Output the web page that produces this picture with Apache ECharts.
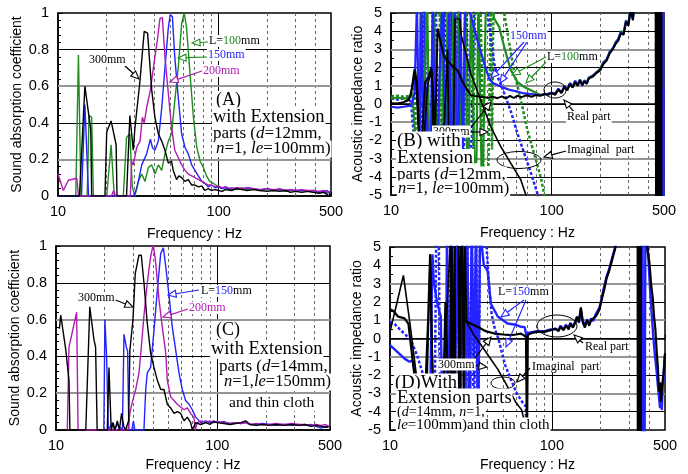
<!DOCTYPE html>
<html><head><meta charset="utf-8">
<script src="https://cdn.jsdelivr.net/npm/echarts@6/dist/echarts.min.js"></script>
<style>html,body{margin:0;padding:0;background:#fff}#c{width:688px;height:474px}</style>
</head><body><div id="c"></div>
<script>
// ---------- tick / grid values ----------
const xTickLabels = [10, 100, 500];
const gridFreqs = [20, 30, 40, 50, 60, 70, 80, 90, 200, 300, 400];
const absGrid = [0.2, 0.4, 0.6, 0.8];
const impGrid = [-4, -3, -2, -1, 0, 1, 2, 3, 4];

// ---------- Panel A : absorption, d=12mm ----------
const aGreen = [[10,0],[12.9,0],[13.4,0.77],[13.9,0],[15.2,0],[15.6,0.44],[16.2,0.43],[16.6,0],[20.1,0],[21.4,0.28],[22.4,0],[25.5,0],[26.7,0.32],[28.0,0.34],[29,0.05],[30.1,0],[31.6,0.08],[33.2,0.12],[34.8,0.08],[36.5,0.155],[38.3,0.17],[40.1,0.12],[42.1,0.17],[44.2,0.14],[46.3,0.23],[48.6,0.30],[50.9,0.34],[53.3,0.52],[56.0,0.70],[58.8,0.94],[61.0,1.0],[63.1,0.92],[66.3,0.67],[69.6,0.43],[73.1,0.265],[76.7,0.19],[80.4,0.155],[84,0.11],[88,0.08],[92,0.07],[96,0.06],[100,0.05],[105,0.04],[110,0.05],[115,0.035],[120,0.045],[130,0.035],[140,0.045],[150,0.035],[165,0.04],[180,0.03],[200,0.035],[220,0.03],[240,0.035],[260,0.025],[280,0.03],[300,0.025],[330,0.03],[360,0.025],[390,0.02],[420,0.025],[450,0.02],[470,0.015],[485,0.02],[495,0.01]];
const aBlue = [[10,0],[14.0,0],[14.7,0.50],[15.5,0],[29.5,0],[30.9,0.04],[32,0.1],[33.2,0.17],[35.6,0.23],[37.6,0.31],[38.7,0.265],[40.1,0.25],[42.1,0.30],[44.2,0.48],[46.3,0.70],[48.6,0.92],[49.9,0.99],[51.5,0.98],[53.3,0.76],[56.0,0.54],[58.8,0.34],[61.7,0.265],[64.7,0.23],[67.9,0.17],[71.2,0.14],[74.7,0.11],[78.5,0.08],[82,0.07],[86,0.05],[90,0.06],[95,0.045],[100,0.05],[105,0.04],[110,0.045],[120,0.035],[130,0.045],[140,0.035],[150,0.045],[165,0.04],[180,0.035],[200,0.04],[220,0.03],[240,0.035],[260,0.03],[280,0.035],[300,0.03],[330,0.03],[360,0.025],[390,0.03],[420,0.02],[450,0.025],[470,0.03],[485,0.02],[495,0.01]];
const aMagenta = [[10,0.12],[10.8,0.03],[11.6,0.086],[13.1,0.097],[13.4,0],[21.5,0],[22.2,0.03],[22.8,0],[28.2,0],[28.7,0.19],[29.4,0.17],[30.9,0.265],[32.4,0.30],[33.5,0.43],[34.4,0.40],[35.6,0.48],[37.6,0.58],[39.5,0.72],[41.5,0.85],[43.1,0.97],[44.6,0.975],[46.3,0.76],[48.6,0.56],[50.9,0.375],[53.3,0.25],[56.0,0.21],[58.8,0.17],[61.7,0.14],[64.7,0.12],[68,0.11],[71.2,0.10],[75,0.09],[78.5,0.08],[82,0.07],[86,0.06],[90,0.06],[95,0.05],[100,0.055],[105,0.045],[110,0.05],[120,0.04],[130,0.045],[140,0.04],[150,0.045],[165,0.04],[180,0.035],[200,0.04],[220,0.035],[240,0.04],[260,0.03],[280,0.035],[300,0.03],[330,0.035],[360,0.03],[390,0.03],[420,0.025],[450,0.03],[470,0.02],[485,0.025],[495,0.02]];
const aBlack = [[10,0],[13.6,0],[14.7,0.60],[16.0,0.36],[16.2,0],[19.6,0],[20.1,0.35],[21.4,0.41],[23.0,0.28],[23.3,0],[26.7,0],[28.0,0.44],[29.4,0.25],[30.1,0.37],[32.3,0.62],[34.4,0.90],[36.1,0.89],[38.3,0.58],[40.1,0.43],[42.1,0.34],[44.2,0.30],[46.3,0.25],[48.6,0.18],[50.9,0.19],[52.1,0.14],[54.7,0.09],[56.5,0.11],[58.8,0.10],[61.7,0.08],[64.7,0.09],[68,0.06],[71.2,0.06],[75,0.05],[78.5,0.055],[82,0.03],[86,0.04],[90,0.03],[95,0.035],[100,0.03],[105,0.025],[110,0.035],[120,0.03],[130,0.04],[140,0.035],[150,0.03],[165,0.035],[180,0.03],[200,0.025],[220,0.03],[240,0.025],[260,0.03],[280,0.02],[300,0.025],[330,0.02],[360,0.025],[390,0.02],[420,0.015],[450,0.02],[470,0.01],[485,0.0],[495,0.015]];

// ---------- Panel B : impedance, d=12mm ----------
const bGreenRe = [[10,0.3],[11,0.35],[12,0.3],[13,0.35],[13.6,0.5],[14.2,-2],[14.8,-6],[15.3,6],[16,-1],[16.8,6],[17.5,-6],[18.5,6],[19.5,-6],[20.6,6],[21.6,-6],[22.5,6],[23.5,-6],[24.5,6],[25.5,-6],[26.5,6],[27.5,-6],[29,6],[30,-6],[31.5,6],[33,-3.2],[34,-3.2],[35,6],[37,-6],[39,6],[41,6],[43.9,4.69],[47.1,4.24],[50.6,3.14],[55.7,1.86],[61.1,1.22],[67.4,0.94],[74.3,0.76],[80,0.6],[85,0.49],[92,0.55],[100,0.58],[105,0.6],[110,0.75],[115,0.65],[120,0.9],[125,0.8],[130,1.15],[135,0.95],[140,1.25],[145,1.05],[150,1.35],[155,1.1],[160,1.3],[165,1.15],[170,1.45],[180,1.55],[190,1.75],[200,1.95],[210,2.3],[220,2.45],[230,2.9],[240,3.05],[250,3.4],[260,3.55],[270,4.0],[280,3.9],[290,4.6],[300,4.4],[310,5.3],[320,4.8],[330,5.6],[350,7],[400,10],[445,20],[452,-30]];
const bGreenIm = [[10,0.4],[11,0.45],[12,0.4],[13,0.45],[13.5,0.6],[14,1.8],[14.6,-6],[15.4,-6],[16,6],[16.6,-6],[18,-6],[18.6,6],[20,6],[20.8,-6],[22,-6],[23,6],[24.5,-6],[26,6],[27.5,-6],[29,6],[30.5,-6],[32,-6],[33.5,6],[36,6],[38,-6],[40,-6],[41.8,6],[42.5,-2.5],[43.5,6],[47,6],[50.6,5],[53.2,3.87],[58.6,1.68],[64.3,0.21],[70.6,-1.43],[77.6,-2.71],[85.4,-4.0],[89.5,-4.9],[93,-6]];
const bBlueRe = [[10,-0.15],[11,-0.2],[12,-0.15],[13,-0.1],[13.5,0.0],[14,0.6],[14.5,5.5],[15,-3],[15.5,5.5],[16,-5.5],[16.5,1],[17.5,-6],[18.2,6],[19,-6],[20,1.5],[21,6],[22,-6],[23,5],[24,-6],[25,6],[26,-6],[27,5.5],[28,-3],[29,6],[30.7,5.15],[34.5,3.5],[38,2.23],[40.8,1.4],[43,1.15],[46,1.04],[50,0.9],[55.7,0.76],[60,0.7],[67.4,0.58],[75,0.55],[81.4,0.49],[90,0.52],[98.6,0.58],[105,0.55],[110,0.85],[115,0.62],[120,1.0],[125,0.78],[130,1.15],[135,0.92],[140,1.28],[145,1.02],[150,1.33],[155,1.0],[160,1.3],[165,1.12],[170,1.42],[180,1.55],[190,1.72],[200,1.85],[210,2.25],[220,2.45],[230,2.85],[240,3.05],[250,3.35],[260,3.6],[270,3.95],[280,3.85],[290,4.55],[300,4.35],[310,5.25],[320,4.7],[330,5.7],[350,7],[400,10],[470,20],[484,-30],[487,30],[490,-30],[493,30],[496,-30],[498,0.8],[500,0.6]];
const bBlueIm = [[10,0.3],[11,0.25],[12,0.3],[12.8,0.35],[13.3,0.1],[13.8,-1.5],[14.3,-6],[15.5,-6],[16.2,6],[16.8,-6],[17.6,-6],[18.2,6],[19,6],[19.7,-6],[20.5,-6],[21.5,6],[22.4,-6],[23.8,6],[25,-6],[26.5,6],[28,-6],[29.5,6],[31,-6],[33,6],[36,6],[38,5.8],[40,5],[42,3.5],[44,2.2],[46,1.5],[48.3,1.1],[50.6,0.6],[55.7,-0.4],[61.1,-1.6],[67.4,-2.7],[74.3,-3.8],[81.4,-4.9],[86,-6]];
const bBlackRe = [[10,0.05],[11,0.0],[12,0.1],[12.8,0.2],[13.3,0.5],[14.0,1.9],[14.5,1.2],[15.0,-1.8],[15.6,-1.8],[16.3,1.2],[17.0,1.4],[17.8,2.0],[18.3,0.5],[18.8,-1.8],[19.5,4.15],[20.5,3.3],[21.4,2.6],[23,2.3],[24.5,2.0],[25.9,1.86],[28,1.2],[29.9,0.76],[31.4,0.49],[34,0.42],[37,0.38],[40,0.35],[43,0.40],[46,0.32],[49,0.42],[52,0.30],[55,0.45],[58,0.33],[61,0.45],[65,0.38],[70,0.48],[75,0.40],[80,0.50],[85,0.45],[90,0.55],[95,0.5],[100,0.62],[105,0.5],[110,0.8],[115,0.6],[120,0.95],[125,0.75],[130,1.1],[135,0.9],[140,1.2],[145,1.0],[150,1.3],[155,1.05],[160,1.25],[165,1.1],[170,1.4],[180,1.5],[190,1.7],[200,1.85],[210,2.2],[220,2.4],[230,2.8],[240,3.0],[250,3.3],[260,3.5],[270,3.9],[280,3.8],[290,4.5],[300,4.3],[310,5.2],[320,4.6],[330,5.6],[350,7],[400,10],[440,20],[452,-30],[456,30],[460,-30],[464,30],[468,-30],[472,30],[476,-30],[480,30],[484,-30]];
const bBlackIm = [[10,0.0],[11,0.05],[12,0.1],[13,0.3],[13.6,1.0],[14.2,1.8],[14.8,-1.5],[15.3,-6],[16,-2],[17,1.2],[18,1.8],[18.6,-6],[19.3,-6],[20,-2],[21.5,-1],[22.5,3],[23.3,-6],[24.2,-6],[25,4.67],[26.8,4.67],[27.2,3.87],[31.4,1.68],[36.2,0.21],[41.8,-1.25],[48.3,-2.35],[55.7,-3.26],[64.3,-4.17],[69.1,-5],[72,-6]];

// ---------- Panel C : absorption, d=14mm + cloth ----------
const cBlue = [[19.8,0],[20.1,0.6],[20.6,0.40],[21.1,0],[22.4,0.04],[23,0],[24,0.03],[25.8,0],[26.4,0.52],[27.3,0.45],[27.8,0.43],[28.3,0],[29.5,0],[30.2,0.05],[30.8,0],[35.1,0],[36.0,0.22],[36.8,0.31],[38.6,0.34],[40.5,0.54],[42.5,0.76],[44.6,0.96],[46.3,0.99],[47.9,0.89],[50.2,0.73],[52.6,0.56],[55.2,0.435],[57.9,0.31],[60.7,0.22],[63.6,0.16],[66.8,0.14],[70.0,0.11],[73.5,0.07],[78.9,0.04],[85,0.05],[90,0.04],[95,0.05],[100,0.04],[110,0.045],[120,0.035],[130,0.04],[140,0.035],[150,0.04],[160,0.03],[175,0.03],[190,0.035],[210,0.03],[230,0.025],[260,0.03],[290,0.025],[320,0.03],[350,0.025],[380,0.03],[410,0.02],[440,0.01],[470,0.02],[490,0.015]];
const cMagenta = [[11.75,0],[12.04,0.45],[13.43,0.64],[13.7,0],[28.0,0],[28.7,0.09],[29.7,0.15],[31.2,0.22],[32.7,0.31],[33.8,0.45],[35.1,0.62],[36.8,0.80],[38.6,0.94],[40.1,1.01],[41.5,0.91],[43.5,0.71],[45.6,0.56],[47.9,0.42],[49.0,0.27],[51.4,0.18],[53.9,0.16],[56.5,0.14],[59.3,0.125],[62.2,0.11],[65.2,0.12],[68.4,0.09],[71.7,0.07],[73,0.0],[75.2,0.04],[80,0.05],[85,0.04],[90,0.05],[95,0.04],[100,0.045],[110,0.04],[120,0.035],[130,0.04],[140,0.035],[150,0.04],[160,0.03],[175,0.035],[190,0.03],[210,0.03],[230,0.035],[260,0.03],[290,0.035],[320,0.03],[350,0.03],[380,0.025],[410,0.03],[440,0.025],[470,0.03],[490,0.02]];
const cBlack = [[10.5,0.55],[10.7,0.625],[11.5,0.435],[12.04,0.27],[12.2,0],[15.3,0],[16.2,0.67],[17.2,0.49],[17.6,0.45],[18.0,0],[20.8,0],[21.3,0.34],[22.0,0],[22.6,0.04],[23.2,0],[24,0.05],[24.7,0],[25.5,0.09],[26.3,0.02],[27,0],[28.2,0.05],[28.7,0.43],[30.0,0.60],[31.0,0.85],[32.7,0.95],[33.8,0.95],[35.1,0.80],[36.8,0.58],[38.6,0.42],[40.5,0.34],[42.5,0.27],[44.6,0.22],[46.7,0.22],[49.0,0.14],[51.4,0.12],[53.9,0.09],[56.5,0.10],[59.3,0.09],[62.2,0.05],[65.2,0.07],[68.4,0.04],[70,0.0],[72,0.0],[73.5,0.04],[78.9,0.03],[85,0.04],[90,0.03],[95,0.045],[100,0.04],[110,0.035],[120,0.03],[130,0.035],[140,0.04],[150,0.05],[160,0.03],[175,0.025],[190,0.03],[210,0.025],[230,0.03],[260,0.025],[290,0.03],[320,0.025],[350,0.03],[380,0.02],[410,0.025],[440,0.02],[470,0.015],[490,0.02]];

// ---------- Panel D : impedance, d=14mm + cloth ----------
const dBlueRe = [[10,-0.36],[11.1,-0.73],[12.3,-1.1],[13.2,-1.27],[13.8,-1.2],[14.4,-2],[15,-6],[17.5,-6],[18.3,4.6],[18.6,3.2],[19.5,2.0],[20.6,1.2],[21.2,-6],[22,-6],[22.5,6],[23,-6],[24,6],[25,-6],[26,6],[27,-6],[28,6],[29,-6],[30,6],[31,-6],[32,6],[33,-2],[34,6],[35,-6],[36,6],[38,4],[40.1,3.7],[42,1.9],[46.3,1.2],[53.2,0.82],[60,0.75],[64.5,0.64],[68,0.62],[70,0.0],[71.5,0.3],[75,0.35],[81,0.4],[90,0.4],[98,0.5],[105,0.5],[110,0.45],[113,0.7],[118,0.5],[122,0.75],[127,0.55],[130,0.85],[135,0.65],[140,0.95],[143,1.2],[147,0.85],[151,1.6],[155,1.0],[160,0.7],[165,1.05],[170,0.8],[175,1.1],[180,0.95],[186,1.3],[191,1.25],[197,1.7],[204,2.3],[211,2.9],[218,3.4],[226,3.8],[234,4.3],[246,5.0],[260,6],[330,8],[358,20],[361,-30],[363,30],[365,-30],[380,10],[388,5.5],[397,4.0],[406,2.4],[415,1.2],[424,0.0],[434,-1.0],[444,-1.8],[452,-2.6],[459,-3.2],[466,-3.8],[472,-3.3],[478,-3.9],[484,-2.6],[490,-2.2],[495,-1.2],[500,-0.9]];
const dBlueIm = [[10,0.91],[10.6,0.82],[11.5,0.5],[12.5,0.2],[13.5,-0.1],[14.8,-1.0],[15.8,-1.8],[16.5,-3],[17.3,-6],[18.8,-6],[19.3,6],[20,6],[20.5,-6],[23,-6],[23.6,6],[24.5,-6],[26,6],[27,-6],[28,6],[29,-6],[30,6],[31,-6],[32,6],[33,-6],[34,6],[35,-6],[36,6],[37.5,6],[39.5,5],[41,2.8],[42.5,1.3],[44.5,0.5],[46.7,0.0],[51.4,-1.45],[56.6,-2.36],[60.7,-3.0],[66,-3.5],[69,-3.7],[70,-6]];
const dBlackRe = [[10,1.6],[10.5,1.5],[11.2,1.2],[12.3,1.1],[13,0.8],[13.8,-1.2],[14.6,-3],[15.5,-6],[16.5,-3],[17.2,1],[17.7,4.6],[18.2,-1],[19,-6],[21,-6],[22,2],[23.5,-6],[24,6],[24.6,-6],[25.2,6],[26.5,6],[27,-6],[27.5,6],[28.2,6],[28.8,1.0],[31,0.85],[34.7,0.64],[39,0.4],[44.1,0.27],[50,0.22],[55.8,0.18],[60,0.22],[64.5,0.27],[69.2,0.09],[70.2,-6],[71,0.2],[75,0.3],[81.4,0.36],[89.6,0.36],[98.5,0.45],[105,0.55],[110,0.4],[113,0.64],[118,0.45],[122,0.7],[127,0.5],[130,0.82],[135,0.6],[140,0.9],[143,1.18],[147,0.9],[151,1.7],[155,0.9],[160,0.6],[165,1.0],[170,0.7],[175,1.0],[180,0.9],[186,1.2],[191,1.35],[197,1.6],[204,2.2],[211,2.7],[218,3.3],[226,3.7],[234,4.2],[246,4.9],[260,6],[330,8],[338,20],[341,-30],[344,30],[347,-30],[350,30],[353,-30],[356,30],[380,8],[390,4.8],[400,4.2],[410,3.0],[420,2.2],[428,1.2],[436,0.5],[445,-0.8],[452,-1.6],[459,-2.9],[466,-2.4],[472,-3.45],[480,-2.6],[490,-2.5],[495,-1.5],[500,-0.8]];
const dBlackIm = [[10,0.36],[11,1.9],[12.1,3.45],[13.2,1.0],[14.3,-1.45],[15.2,-3.5],[16,-6],[17,-2],[17.7,4.6],[18.1,0.5],[18.8,-6],[20,-6],[21.5,-2],[23.8,6],[24.5,-6],[25,6],[25.6,-6],[28,6],[28.5,-6],[29,6],[29.7,0.9],[33,0.2],[36.8,-0.4],[41,-1.0],[46.5,-1.7],[51.5,-2.4],[56,-3.0],[60,-3.5],[65,-3.9],[68,-4.6],[70,-5.5],[72,-6]];

// ---------- colours ----------
const GREEN = '#1e8c1e', BLUE = '#2323ff', MAG = '#b01cb0', BLK = '#000';
const SERIF = '"Liberation Serif", "Times New Roman", serif';
const SANS = '"Liberation Sans", Arial, sans-serif';

const chart = echarts.init(document.getElementById('c'), null, {renderer: 'canvas'});

const grids = [
  {left: 58, top: 13, width: 273, height: 183},
  {left: 391, top: 13, width: 273, height: 182},
  {left: 56, top: 246, width: 274, height: 184},
  {left: 390, top: 247, width: 275, height: 183}
];
const xNameGaps = [31, 31, 28, 28];

function xAx(i) {
  return {
    type: 'log', logBase: 10, min: 10, max: 500, gridIndex: i,
    axisLine: {show: true, lineStyle: {color: '#000', width: 1.5}},
    axisTick: {show: true, inside: true, length: 4, customValues: xTickLabels, lineStyle: {color: '#000'}},
    axisLabel: {customValues: xTickLabels, fontSize: 14.5, color: '#000', fontFamily: SANS, margin: 8},
    splitLine: {show: false},
    name: 'Frequency : Hz', nameLocation: 'middle', nameGap: xNameGaps[i],
    nameTextStyle: {fontSize: 14, fontFamily: SANS, color: '#000'}
  };
}
function yAx(i, kind) {
  const abs = kind === 'abs';
  return {
    type: 'value', gridIndex: i,
    min: abs ? 0 : -5, max: abs ? 1 : 5, interval: abs ? 0.2 : 1,
    axisLine: {show: true, lineStyle: {color: '#000', width: 1.5}},
    axisTick: {show: true, inside: true, length: 5, lineStyle: {color: '#000'}},
    minorTick: {show: true, splitNumber: abs ? 5 : 2, length: 3, lineStyle: {color: '#000'}},
    axisLabel: {fontSize: 14.5, color: '#000', fontFamily: SANS, margin: 9},
    splitLine: {show: false},
    name: abs ? 'Sound absorption coefficient' : 'Acoustic impedance ratio',
    nameLocation: 'middle', nameGap: abs ? 34 : 23,
    nameTextStyle: {fontSize: 14, fontFamily: SANS, color: '#000'}
  };
}
function gridSeries(i, hVals, isAbs) {
  const data = [];
  gridFreqs.forEach(f => data.push({xAxis: f, lineStyle: {color: '#6a6a6a', width: 1, type: [3, 3]}}));
  data.push({xAxis: 100, lineStyle: {color: '#000', width: 1, type: 'solid'}});
  hVals.forEach((v, k) => {
    const gray = isAbs ? (k % 2 === 0) : (Math.abs(v) % 2 === 1);
    data.push({yAxis: v, lineStyle: gray ? {color: '#959595', width: 2.2, type: 'solid'} : {color: '#000', width: 1, type: 'solid'}});
  });
  return {type: 'line', data: [], xAxisIndex: i, yAxisIndex: i, z: 1, silent: true,
    markLine: {silent: true, symbol: ['none', 'none'], label: {show: false}, animation: false, z: 1, data}};
}
function ln(data, i, color, width, dash, z) {
  return {type: 'line', data, xAxisIndex: i, yAxisIndex: i, symbol: 'none', showSymbol: false,
    lineStyle: {color, width, type: dash || 'solid'}, z: z || 3, animation: false, clip: true, silent: true};
}

// ---------- annotations ----------
const G = [];
function arrow(x1, y1, x2, y2, color) {
  const a = Math.atan2(y2 - y1, x2 - x1), L = 8, W = 3.5;
  const bx = x2 - L * Math.cos(a), by = y2 - L * Math.sin(a);
  const px = -Math.sin(a) * W, py = Math.cos(a) * W;
  G.push({type: 'line', z: 100, shape: {x1, y1, x2: bx, y2: by}, style: {stroke: color, lineWidth: 1.2}});
  G.push({type: 'polygon', z: 101, shape: {points: [[x2, y2], [bx + px, by + py], [bx - px, by - py]]}, style: {fill: '#fff', stroke: color, lineWidth: 1.1}});
}
function txt(x, y, text, size, fill, bg, rich) {
  const st = {text, font: size + 'px ' + SERIF, fill: fill || '#000', verticalAlign: 'middle', align: 'left'};
  if (bg) { st.backgroundColor = '#fff'; st.padding = [0, 1]; }
  if (rich) st.rich = rich;
  G.push({type: 'text', z: 102, x, y, style: st});
}
function richSet(size, col) {
  return {
    n: {fontSize: size, fontFamily: SERIF, fill: '#000'},
    c: {fontSize: size, fontFamily: SERIF, fill: col},
    i: {fontSize: size, fontFamily: SERIF, fill: '#000', fontStyle: 'italic'}
  };
}
function ellipse(cx, cy, rx, ry) {
  G.push({type: 'ellipse', z: 100, shape: {cx, cy, rx, ry}, style: {fill: 'none', stroke: '#000', lineWidth: 1}});
}

// Panel A
txt(88, 60, '300mm', 12, '#000', true);
arrow(123, 64, 139, 79, '#000');
txt(208, 41, '{n|L=}{c|100}{n|mm}', 12, '#000', true, richSet(12, GREEN));
arrow(208, 42, 192, 43, GREEN);
txt(207, 55, '150mm', 12, BLUE, true);
arrow(207, 57, 178, 58, GREEN);
txt(202, 71, '200mm', 12, MAG, true);
arrow(202, 71, 170, 82, MAG);
txt(215, 100, '(A)', 18, '#000', true);
txt(212, 117, 'with Extension', 18.5, '#000', true);
txt(212, 134, '{n|parts (}{i|d}{n|=12mm,}', 17, '#000', true, richSet(17, '#000'));
txt(215, 149, '{i|n}{n|=1, }{i|le}{n|=100mm)}', 17, '#000', true, richSet(17, '#000'));

// Panel B
txt(509, 36, '150mm', 12, BLUE, true);
arrow(524, 42, 491, 78, BLUE);
arrow(527, 42, 500, 83, BLUE);
txt(546, 57, '{n|L=}{c|100}{n|mm}', 12, '#000', true, richSet(12, GREEN));
arrow(546, 57, 512, 75, GREEN);
arrow(548, 60, 526, 83, GREEN);
ellipse(555, 90, 11, 8);
txt(566, 117, 'Real part', 12, '#000', true);
arrow(574, 112, 564, 100, '#000');
txt(566, 150, 'Imaginal  part', 12, '#000', true);
arrow(566, 151, 544, 157, '#000');
ellipse(519, 160, 22, 8.5);
txt(432, 131.5, '300mm', 12, '#000', true);
arrow(469, 130, 491, 102, '#000');
arrow(469, 132, 488, 132, '#000');
txt(396, 141, '(B) with', 19, '#000', true);
txt(396, 158.5, 'Extension', 19, '#000', true);
txt(396, 175, '{n|parts (}{i|d}{n|=12mm,}', 17, '#000', true, richSet(17, '#000'));
txt(397, 189, '{i|n}{n|=1, }{i|le}{n|=100mm)}', 16.5, '#000', true, richSet(16.5, '#000'));

// Panel C
txt(77, 298, '300mm', 12, '#000', true);
arrow(113, 299, 133, 307, '#000');
txt(200, 291, '{n|L=}{c|150}{n|mm}', 12, '#000', true, richSet(12, BLUE));
arrow(199, 290, 168, 295, BLUE);
txt(188, 308, '200mm', 12, MAG, true);
arrow(188, 309, 163, 317, MAG);
txt(215, 330, '(C)', 18, '#000', true);
txt(210, 349.5, 'with Extension', 18.5, '#000', true);
txt(218, 367, '{n|parts (}{i|d}{n|=14mm,}', 17, '#000', true, richSet(17, '#000'));
txt(223, 382, '{i|n}{n|=1,}{i|le}{n|=150mm)}', 16.5, '#000', true, richSet(16.5, '#000'));
txt(228, 403, 'and thin cloth', 15.5, '#000', true);

// Panel D
txt(497, 292, '{n|L=}{c|150}{n|mm}', 12, '#000', true, richSet(12, BLUE));
arrow(524, 300, 501, 317, BLUE);
arrow(526, 300, 506, 347, BLUE);
ellipse(557, 326, 20, 11);
txt(584, 346.5, 'Real part', 12, '#000', true);
arrow(583, 343, 574, 335, '#000');
txt(531, 366.5, 'Imaginal  part', 12, '#000', true);
arrow(530, 368, 517, 382, '#000');
ellipse(503, 383, 12, 6);
txt(437, 364.5, '300mm', 12, '#000', true);
arrow(472, 362, 491, 337, '#000');
arrow(472, 365, 487, 367, '#000');
txt(394, 383, '(D)With', 18.5, '#000', true);
txt(396, 398, 'Extension parts', 18.5, '#000', true);
txt(396, 412, '{n|(}{i|d}{n|=14mm, }{i|n}{n|=1,}', 14, '#000', true, richSet(14, '#000'));
txt(396, 425, '{i|le}{n|=100mm)and thin cloth}', 15, '#000', true, richSet(15, '#000'));

const option = {
  backgroundColor: '#fff',
  animation: false,
  grid: grids.map(g => Object.assign({show: true, borderColor: '#000', borderWidth: 1.5, backgroundColor: 'transparent'}, g)),
  xAxis: [xAx(0), xAx(1), xAx(2), xAx(3)],
  yAxis: [yAx(0, 'abs'), yAx(1, 'imp'), yAx(2, 'abs'), yAx(3, 'imp')],
  series: [
    gridSeries(0, absGrid, true), gridSeries(1, impGrid, false), gridSeries(2, absGrid, true), gridSeries(3, impGrid, false),
    ln(aGreen, 0, GREEN, 1.4), ln(aBlue, 0, BLUE, 1.4), ln(aMagenta, 0, MAG, 1.4), ln(aBlack, 0, BLK, 1.4),
    ln(bGreenIm, 1, GREEN, 2.5, [3, 2]), ln(bBlueIm, 1, BLUE, 2.5, [3, 2]),
    ln(bGreenRe, 1, GREEN, 2.2), ln(bBlueRe, 1, BLUE, 2.2), ln(bBlackIm, 1, BLK, 1.6), ln(bBlackRe, 1, BLK, 2.0),
    ln(cBlue, 2, BLUE, 1.4), ln(cMagenta, 2, MAG, 1.4), ln(cBlack, 2, BLK, 1.4),
    ln(dBlueIm, 3, BLUE, 2.5, [3, 2]), ln(dBlueRe, 3, BLUE, 2.4), ln(dBlackIm, 3, BLK, 1.6), ln(dBlackRe, 3, BLK, 2.2)
  ],
  graphic: G
};
chart.setOption(option);
</script>
</body></html>
